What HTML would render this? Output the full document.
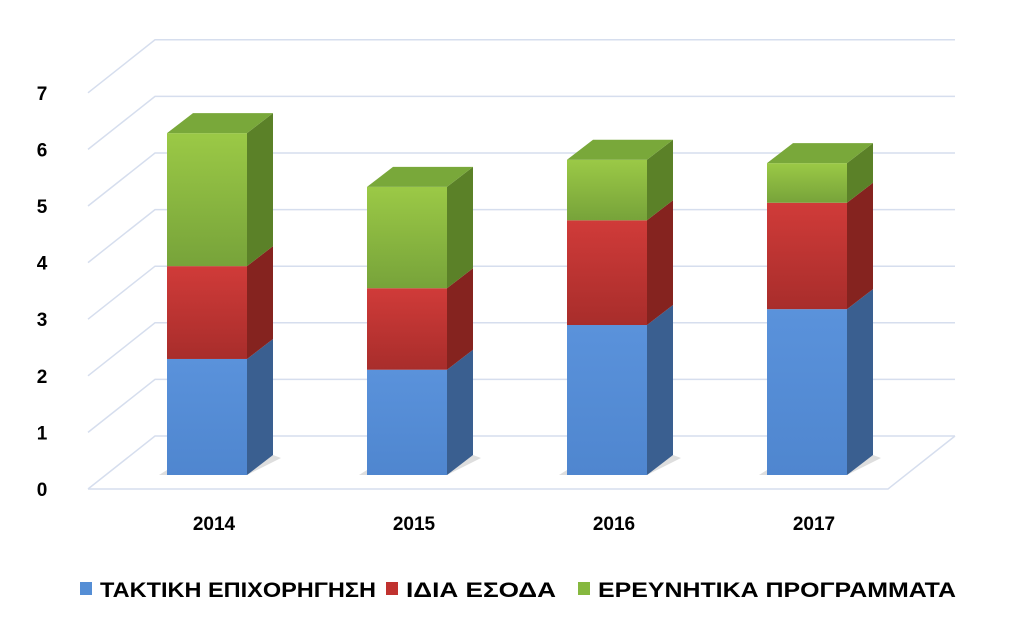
<!DOCTYPE html>
<html><head><meta charset="utf-8"><style>
html,body{margin:0;padding:0;background:#fff;}
svg{display:block;font-family:"Liberation Sans",sans-serif;}
</style></head><body>
<svg id="chart" width="1023" height="635" viewBox="0 0 1023 635">
<defs>
<linearGradient id="gB" x1="0" y1="0" x2="0" y2="1"><stop offset="0" stop-color="#5a92db"/><stop offset="1" stop-color="#4f86cf"/></linearGradient>
<linearGradient id="gR" x1="0" y1="0" x2="0" y2="1"><stop offset="0" stop-color="#d03b39"/><stop offset="1" stop-color="#a82d2b"/></linearGradient>
<linearGradient id="gG" x1="0" y1="0" x2="0" y2="1"><stop offset="0" stop-color="#9bc946"/><stop offset="1" stop-color="#77a33a"/></linearGradient>
</defs>
<g id="grid"></g>
<g id="bars"></g>
<g id="labels"></g>
<g id="legend">
<rect x="80" y="582" width="12" height="13" fill="#558ed5"/>
<text x="100" y="597" font-size="21" font-weight="bold" textLength="276" lengthAdjust="spacingAndGlyphs">ΤΑΚΤΙΚΗ ΕΠΙΧΟΡΗΓΗΣΗ</text>
<rect x="386" y="582" width="12" height="13" fill="#c0322f"/>
<text x="406" y="597" font-size="21" font-weight="bold" textLength="150" lengthAdjust="spacingAndGlyphs">ΙΔΙΑ ΕΣΟΔΑ</text>
<rect x="578" y="582" width="12" height="13" fill="#86b83f"/>
<text x="598" y="597" font-size="21" font-weight="bold" textLength="358" lengthAdjust="spacingAndGlyphs">ΕΡΕΥΝΗΤΙΚΑ ΠΡΟΓΡΑΜΜΑΤΑ</text>
</g>
</svg>
<script>
const categories=["2014","2015","2016","2017"];
const taktiki=[2.05,1.86,2.65,2.93];
const idia=[1.64,1.44,1.85,1.88];
const erevnitika=[2.35,1.79,1.07,0.70];
const ticks=[0,1,2,3,4,5,6,7];
const NS="http://www.w3.org/2000/svg";
const S=56.6;
function yFront(v){return 489-S*v;}
function yBar(v){return 475-S*v;}
function xBar(i){return 167+200*i;}
function mk(tag,attrs,parent){const e=document.createElementNS(NS,tag);for(const k in attrs)e.setAttribute(k,attrs[k]);parent.appendChild(e);return e;}
const grid=document.getElementById('grid'),bars=document.getElementById('bars'),labels=document.getElementById('labels');
ticks.forEach(t=>{
 const yf=yFront(t),yb=yf-53;
 const p=mk('polyline',{points:`88,${yf} 155,${yb} 955,${yb}`,fill:'none',stroke:'#d6deee','stroke-width':1.5},grid);
 
 
 const tx=mk('text',{x:42,y:yf+7,'font-size':19,'font-weight':'bold','text-anchor':'middle',fill:'#000'},labels);
 tx.textContent=t;
 
 
});
const fl=mk('polyline',{points:`88,489 888,489 955,436`,fill:'none',stroke:'#d6deee','stroke-width':1.5},grid);


const W=80,DX=26,DY=20;
const series=[[taktiki,'url(#gB)','#3a5f90','#6a9be0','taktiki'],[idia,'url(#gR)','#85231f','#d24a45','idia'],[erevnitika,'url(#gG)','#5b8128','#79a83a','erevnitika']];
categories.forEach((c,i)=>{
 const x=xBar(i);
 const sh=mk('polygon',{points:`${x-8},475 ${x+W},475 ${x+W+DX+8},458 ${x+W+DX},455 ${x+W},468 ${x},470`,fill:'#c8c8c8',opacity:0.6},bars);
 
 
 let base=0;
 series.forEach((s,si)=>{
  const v=s[0][i];const y0=yBar(base),y1=yBar(base+v);
  const f=mk('rect',{x:x,y:y1,width:W,height:y0-y1,fill:s[1]},bars);
  
  
  const sd=mk('polygon',{points:`${x+W},${y0} ${x+W+DX},${y0-DY} ${x+W+DX},${y1-DY} ${x+W},${y1}`,fill:s[2]},bars);
  
  
  if(si===series.length-1){
   const tp=mk('polygon',{points:`${x},${y1} ${x+DX},${y1-DY} ${x+W+DX},${y1-DY} ${x+W},${y1}`,fill:s[3]},bars);
   
   
  }
  base+=v;
 });
 const t=mk('text',{x:x+W/2+7,y:530,'font-size':19,'font-weight':'bold','text-anchor':'middle'},labels);
 t.textContent=c;
 
 
});
</script>
</body></html>
